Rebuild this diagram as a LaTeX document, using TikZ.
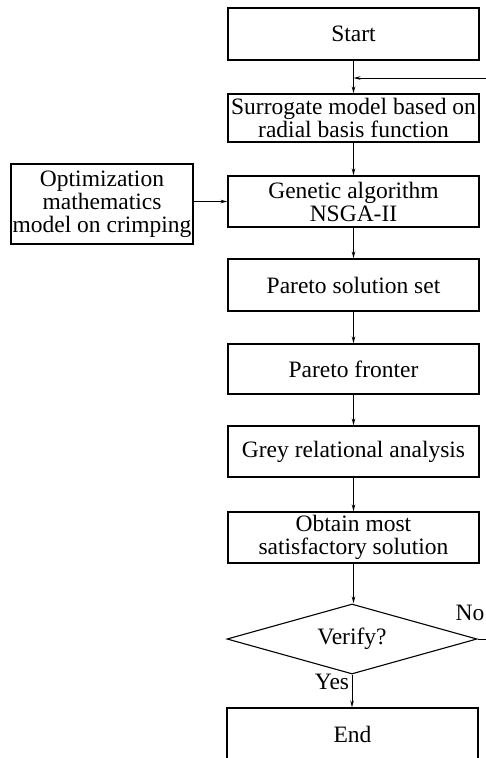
\documentclass[tikz,border=0pt]{standalone}
\usepackage{fontspec}
\setmainfont{Liberation Serif}
\usetikzlibrary{shapes.geometric,arrows.meta}
\begin{document}
\begin{tikzpicture}[x=1pt,y=-1pt,
  every node/.style={font=\fontsize{23.5}{23}\selectfont},
  box/.style={draw,line width=1.1pt,rectangle,minimum width=251pt,inner sep=0pt,align=center},
  dec/.style={draw,line width=1.1pt,diamond,aspect=3.5,minimum width=250pt,minimum height=70pt,inner sep=0pt},
  conn/.style={line width=0.9pt,-{Stealth[length=7pt,width=3.5pt]}},
  plain/.style={line width=0.9pt}]
\clip (0,0) rectangle (486,758);
\node[box,minimum height=52pt] (start) at (353.5,34) {Start};
\node[box,minimum height=48pt] (surr) at (353.5,118) {\fontsize{23.5}{19.5}\selectfont Surrogate model based on\\radial basis function};
\node[box,minimum height=51pt] (gen) at (353.5,201.5) {Genetic algorithm\\NSGA-II};
\node[box,minimum width=182pt,minimum height=80pt] (opt) at (102,204) {Optimization\\mathematics\\model on crimping};
\node[box,minimum height=52pt] (pss) at (353.5,285) {Pareto solution set};
\node[box,minimum height=50pt] (pf) at (353.5,369) {Pareto fronter};
\node[box,minimum height=51pt] (grey) at (353.5,451.5) {Grey relational analysis};
\node[box,minimum height=51pt] (obt) at (353.5,537.5) {Obtain most\\satisfactory solution};
\node[dec] (ver) at (352,639) {Verify?};
\node[box,minimum height=52pt] (end) at (352.5,734) {End};
\coordinate (fbR) at (486,639);
\coordinate (fbT) at (486,78);
\node (no) at (470,613) {No};
\node (yes) at (332,682) {Yes};
\draw[conn] (start) -- (surr);
\draw[conn] (surr) -- (gen);
\draw[conn] (gen) -- (pss);
\draw[conn] (pss) -- (pf);
\draw[conn] (pf) -- (grey);
\draw[conn] (grey) -- (obt);
\draw[conn] (obt.south) -- (obt.south |- ver.north);
\draw[conn] (ver.south) -- (ver.south |- end.north);
\draw[conn] (opt.east |- gen.west) -- (gen.west);
\draw[plain] (ver.east) -- (fbR);
\draw[conn] (fbT) -- (fbT -| start.south);
\end{tikzpicture}
\end{document}
